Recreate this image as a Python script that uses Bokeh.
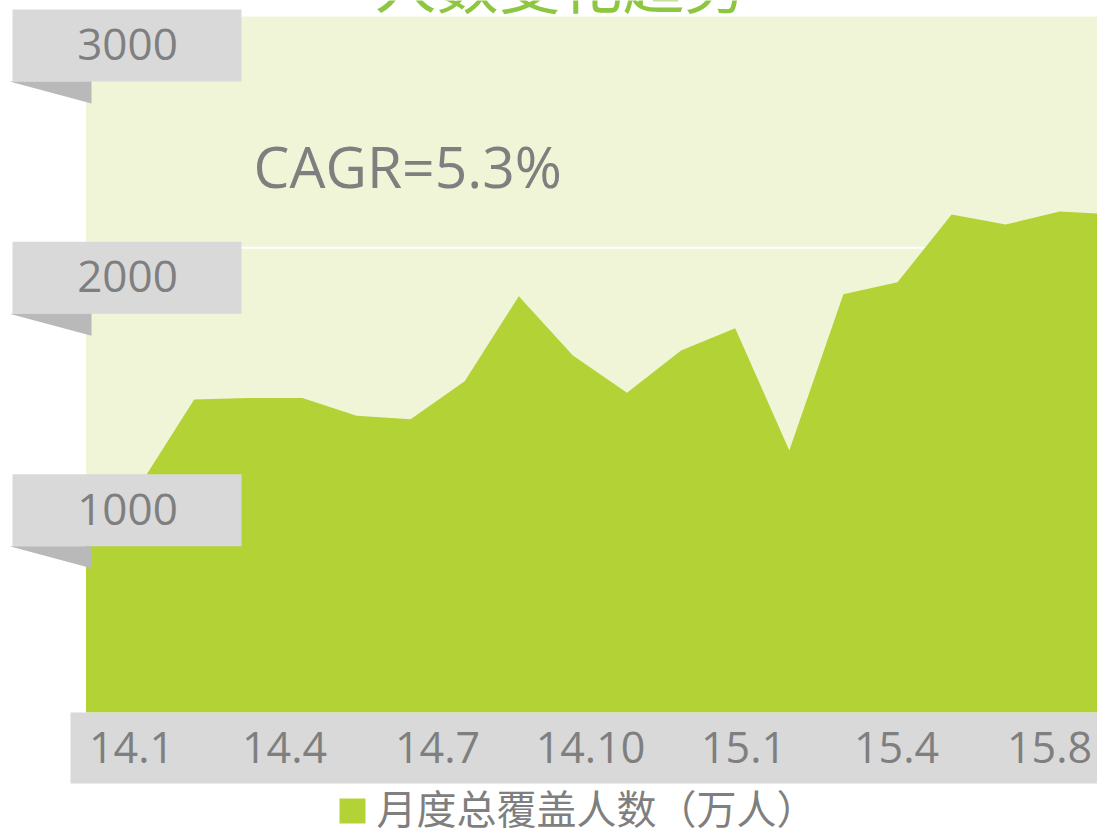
from bokeh.plotting import figure
from bokeh.models import Range1d
from bokeh.embed import file_html
from bokeh.resources import INLINE
from bokeh.core.properties import value

# ---------------- data ----------------
months = ["14.1", "14.2", "14.3", "14.4", "14.5", "14.6", "14.7", "14.8", "14.9", "14.10",
          "14.11", "14.12", "15.1", "15.2", "15.3", "15.4", "15.5", "15.6", "15.7", "15.8"]
coverage = [880, 980, 1347, 1354, 1354, 1277, 1262, 1426, 1792, 1537,
            1376, 1558, 1654, 1128, 1800, 1852, 2143, 2100, 2156, 2144]
x_tick_labels = ["14.1", "14.4", "14.7", "14.10", "15.1", "15.4", "15.8"]
y_ticks = [1000, 2000, 3000]
y_tick_labels = ["1000", "2000", "3000"]
y_max = 3000
title_text = "人数变化趋势"
cagr_text = "CAGR=5.3%"
legend_text = "月度总覆盖人数（万人）"

# ---------------- layout ----------------
W, H = 1097, 831
X0, DX = 85.5, 54.1     # canvas px of first month, px per month
Y0 = 712.0              # canvas px of value 0
PY = 697.0 / y_max      # px per unit

def sx(px):
    return (px - X0) / DX

def sy(py):
    return (Y0 - py) / PY

x_start, x_end = sx(0), sx(W)
y_bottom, y_top = sy(H), sy(0)

GREEN = "#b2d235"
BG = "#f0f5d7"
BOX = "#d9d9d9"
FOLD = "#b9b9b9"
TXT = "#7f7f7f"
TITLE = "#8dc63f"
NUM_FONT = value("Open Sans")
CJK_FONT = value("Noto Sans CJK SC")

p = figure(width=W, height=H, x_range=Range1d(x_start, x_end),
           y_range=Range1d(y_bottom, y_top), x_axis_type=None, y_axis_type=None,
           toolbar_location=None, output_backend="svg", min_border=0,
           outline_line_color=None, background_fill_color="white",
           border_fill_color="white")
p.title.visible = False
p.xgrid.visible = False
p.ygrid.visible = False

# plot background
p.quad(left=[0], right=[x_end], bottom=[0], top=[y_max], fill_color=BG, line_color=None)
# gridlines
p.segment(x0=[0] * len(y_ticks), x1=[x_end] * len(y_ticks), y0=y_ticks, y1=y_ticks,
          line_color="white", line_width=2)
# area
xs = list(range(len(months)))
p.varea(x=xs, y1=[0] * len(xs), y2=coverage, fill_color=GREEN)

# x label band
p.quad(left=[sx(70)], right=[x_end], bottom=[sy(783)], top=[0], fill_color=BOX, line_color=None)
label_x = [sx(131 + 153 * k) for k in range(len(x_tick_labels))]
p.text(x=label_x, y=[sy(747)] * len(x_tick_labels), text=x_tick_labels,
       text_font=NUM_FONT, text_font_size="43px", text_color=TXT,
       text_align="center", text_baseline="middle")

# y label ribbons
box_h = 72 / PY
tops = [t + 6 / PY for t in y_ticks]
bots = [t - box_h for t in tops]
p.quad(left=[sx(12)] * 3, right=[sx(241)] * 3, bottom=bots, top=tops,
       fill_color=BOX, line_color=None)
fold_xs = [[sx(9), sx(91), sx(91)] for _ in y_ticks]
fold_ys = [[b, b, b - 22 / PY] for b in bots]
p.patches(xs=fold_xs, ys=fold_ys, fill_color=FOLD, line_color=None)
p.text(x=[sx(127)] * 3, y=[(a + b) / 2 + 1 / PY for a, b in zip(tops, bots)],
       text=y_tick_labels, text_font=NUM_FONT, text_font_size="44px", text_color=TXT,
       text_align="center", text_baseline="middle")

# CAGR annotation
p.text(x=[sx(253)], y=[sy(165)], text=[cagr_text], text_font=NUM_FONT,
       text_font_size="57px", text_color=TXT, text_align="left",
       text_baseline="middle")

# title (cut off at the top, as in the original)
p.text(x=[sx(560)], y=[sy(-19)], text=[title_text], text_font=CJK_FONT,
       text_font_size="62px", text_color=TITLE, text_align="center",
       text_baseline="middle")

# legend
p.quad(left=[sx(339)], right=[sx(365)], bottom=[sy(823)], top=[sy(798)],
       fill_color=GREEN, line_color=None)
p.text(x=[sx(376)], y=[sy(806)], text=[legend_text], text_font=CJK_FONT,
       text_font_size="40px", text_color=TXT, text_align="left", text_baseline="middle")

open("out.html", "w").write(file_html(p, INLINE))
